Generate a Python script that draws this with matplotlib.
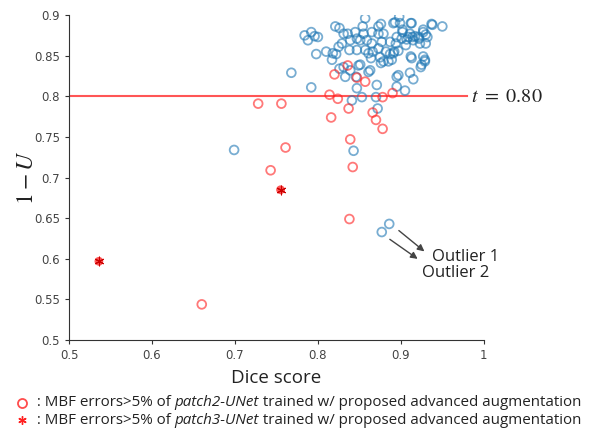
import matplotlib
matplotlib.use('Agg')
import matplotlib.pyplot as plt
from matplotlib.lines import Line2D
from matplotlib.ticker import FormatStrFormatter
import numpy as np

# cases with 1-U above threshold (blue), patch2 errors (red), patch3 errors (star)
blue_x = [0.784, 0.792, 0.796, 0.800, 0.788, 0.768, 0.792, 0.699, 0.843, 0.872, 0.877, 0.886,
          0.857, 0.898, 0.950, 0.937, 0.913, 0.893, 0.876, 0.873, 0.854, 0.821, 0.826, 0.831,
          0.836, 0.845, 0.855, 0.873, 0.879, 0.865, 0.902, 0.911, 0.909, 0.917, 0.921, 0.927,
          0.930, 0.932, 0.930, 0.923, 0.915, 0.907, 0.901, 0.895, 0.887, 0.877, 0.865, 0.859,
          0.851, 0.847, 0.839, 0.829, 0.825, 0.818, 0.810, 0.798, 0.822, 0.838, 0.847, 0.857,
          0.861, 0.866, 0.873, 0.882, 0.887, 0.892, 0.897, 0.879, 0.876, 0.885, 0.889, 0.875,
          0.913, 0.929, 0.925, 0.851, 0.831, 0.826, 0.839, 0.863, 0.861, 0.833, 0.846, 0.897,
          0.895, 0.911, 0.915, 0.871, 0.847, 0.905, 0.895, 0.841, 0.853, 0.817, 0.849, 0.864,
          0.924, 0.929, 0.899, 0.891, 0.912, 0.938, 0.927, 0.902, 0.914, 0.922, 0.894, 0.906,
          0.891, 0.912, 0.927, 0.870]
blue_y = [0.875, 0.879, 0.874, 0.873, 0.869, 0.829, 0.811, 0.734, 0.733, 0.785, 0.633, 0.643,
          0.896, 0.898, 0.886, 0.889, 0.890, 0.891, 0.889, 0.886, 0.886, 0.886, 0.884, 0.877,
          0.877, 0.879, 0.877, 0.877, 0.877, 0.879, 0.879, 0.877, 0.873, 0.874, 0.873, 0.879,
          0.876, 0.873, 0.865, 0.865, 0.869, 0.870, 0.871, 0.873, 0.867, 0.867, 0.865, 0.869,
          0.869, 0.871, 0.869, 0.865, 0.861, 0.853, 0.855, 0.852, 0.852, 0.857, 0.857, 0.857,
          0.853, 0.855, 0.859, 0.855, 0.852, 0.855, 0.856, 0.843, 0.841, 0.843, 0.845, 0.848,
          0.847, 0.845, 0.839, 0.839, 0.836, 0.834, 0.832, 0.832, 0.830, 0.824, 0.824, 0.826,
          0.824, 0.829, 0.821, 0.814, 0.810, 0.807, 0.812, 0.795, 0.799, 0.845, 0.838, 0.847,
          0.836, 0.843, 0.890, 0.890, 0.890, 0.888, 0.882, 0.882, 0.873, 0.871, 0.865, 0.863,
          0.853, 0.849, 0.849, 0.799]

red_x = [0.728, 0.756, 0.814, 0.824, 0.837, 0.816, 0.820, 0.847, 0.857, 0.836, 0.878,
         0.890, 0.866, 0.870, 0.878, 0.839, 0.761, 0.842, 0.743, 0.660, 0.838]
red_y = [0.791, 0.791, 0.802, 0.797, 0.785, 0.774, 0.827, 0.823, 0.818, 0.838, 0.799,
         0.804, 0.780, 0.771, 0.760, 0.747, 0.737, 0.713, 0.709, 0.544, 0.649]

star_x = [0.536, 0.755]
star_y = [0.597, 0.685]

threshold = 0.80
x_ticks = [0.5, 0.6, 0.7, 0.8, 0.9, 1.0]
y_ticks = [0.5, 0.55, 0.6, 0.65, 0.7, 0.75, 0.8, 0.85, 0.9]

plt.rcParams['mathtext.fontset'] = 'stix'

fig = plt.figure(figsize=(5.9, 4.3), dpi=100)
ax = fig.add_axes([0.117, 0.209, 0.703, 0.756])

blue = '#1f77b4'
red = '#ff2020'
ax.scatter(blue_x, blue_y, s=40, facecolors='none', edgecolors=blue, linewidths=1.3, alpha=0.6, zorder=3)
ax.scatter(red_x, red_y, s=40, facecolors='none', edgecolors=red, linewidths=1.3, alpha=0.6, zorder=4)
ax.scatter(star_x, star_y, s=40, color=red, alpha=0.75, zorder=5, edgecolors='none')
ax.scatter(star_x, star_y, s=40, marker=(6, 2, 0), color='#cc0000', linewidths=0.8, zorder=6)

ax.plot([0.5, 0.98], [threshold, threshold], color='#ff5555', lw=1.5, zorder=2)
ax.text(0.985, threshold, r'$t\ =\ 0.80$', fontsize=14.5, va='center', ha='left', color='#222222')

ax.annotate('', xy=(0.931, 0.607), xytext=(0.895, 0.637),
            arrowprops=dict(arrowstyle='-|>', color='#444444', lw=1.0, mutation_scale=10))
ax.annotate('', xy=(0.923, 0.598), xytext=(0.884, 0.626),
            arrowprops=dict(arrowstyle='-|>', color='#444444', lw=1.0, mutation_scale=10))
ax.text(0.937, 0.602, 'Outlier 1', fontsize=12, family='Open Sans', va='center', ha='left', color='#222222')
ax.text(0.925, 0.582, 'Outlier 2', fontsize=12, family='Open Sans', va='center', ha='left', color='#222222')

ax.set_xlim(0.5, 1.0)
ax.set_ylim(0.5, 0.9)
ax.set_xticks(x_ticks)
ax.set_yticks(y_ticks)
ax.xaxis.set_major_formatter(FormatStrFormatter('%g'))
ax.yaxis.set_major_formatter(FormatStrFormatter('%g'))
ax.tick_params(direction='out', length=3, labelsize=8.5, labelcolor='#444444', color='#333333')
ax.spines['top'].set_visible(False)
ax.spines['right'].set_visible(False)
for s in ['left', 'bottom']:
    ax.spines[s].set_color('#333333')
    ax.spines[s].set_linewidth(0.8)

ax.set_xlabel('Dice score', fontsize=13.5, family='Open Sans', labelpad=5, color='#222222')
ax.set_ylabel(r'$1-U$', fontsize=17, color='#222222')
ax.yaxis.set_label_coords(-0.075, 0.5)

# legend text underneath
leg_rows = [('patch2-UNet', 403), ('patch3-UNet', 420)]
fs = 10.9
for i, (name, py) in enumerate(leg_rows):
    fy = 1 - py / 430.0
    if i == 0:
        fig.add_artist(Line2D([22 / 590.0], [fy], marker='o', markersize=6.5, mfc='none',
                              mec=red, mew=1.3, alpha=0.8, transform=fig.transFigure))
    else:
        fig.add_artist(Line2D([22 / 590.0], [fy], marker=(6, 2, 0), markersize=6,
                              mec=red, mew=1.0, transform=fig.transFigure))
    t1 = fig.text(33 / 590.0, fy, ' : MBF errors>5% of ', fontsize=fs, family='Open Sans',
                  va='center', ha='left', color='#222222')
    t2 = fig.text(0, 0, name, fontsize=fs, family='Open Sans', style='italic',
                  va='center', ha='left', color='#222222')
    fig.canvas.draw()
    bb = t1.get_window_extent()
    t2.set_position(((bb.x1) / fig.bbox.width, fy))
    t3 = fig.text(0, 0, ' trained w/ proposed advanced augmentation', fontsize=fs,
                  family='Open Sans', va='center', ha='left', color='#222222')
    fig.canvas.draw()
    bb2 = t2.get_window_extent()
    t3.set_position((bb2.x1 / fig.bbox.width, fy))

fig.savefig('out.png', dpi=100)
